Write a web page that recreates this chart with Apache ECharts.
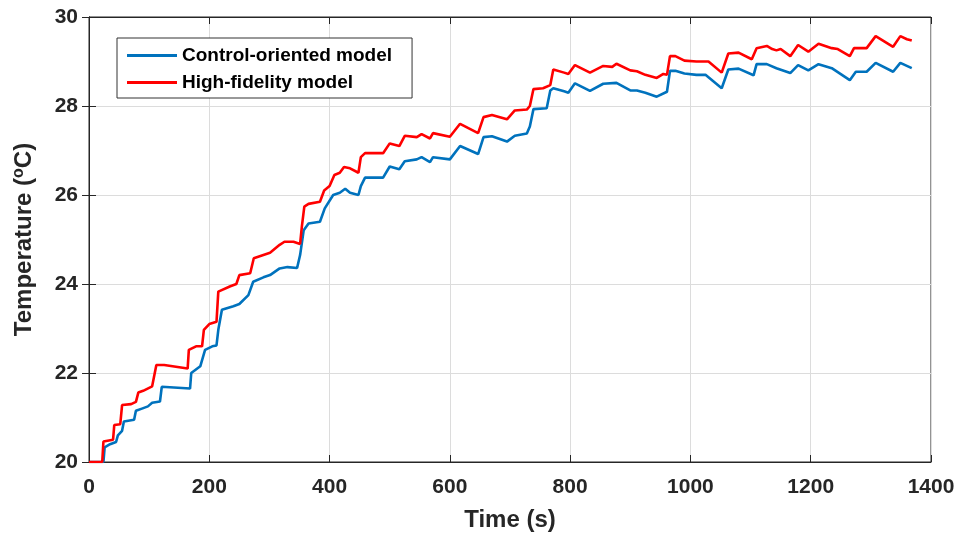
<!DOCTYPE html>
<html>
<head>
<meta charset="utf-8">
<script src="https://cdn.jsdelivr.net/npm/echarts@6/dist/echarts.min.js"></script>
<style>html,body{margin:0;padding:0;background:#fff;}#c{width:959px;height:539px;}</style>
</head>
<body>
<div id="c"></div>
<script>
var seriesNames = ['Control-oriented model', 'High-fidelity model'];
var xTicks = [0, 200, 400, 600, 800, 1000, 1200, 1400];
var yTicks = [20, 22, 24, 26, 28, 30];

var timeBlue = [0,24,26,35,45,48,55,58,75,78,88,98,105,118,121,168,170,185,193,205,212,215,221,240,250,265,273,290,301,317,330,346,351,357,365,384,392,406,417,426,434,448,452,459,489,500,516,525,545,553,567,572,600,617,647,656,670,695,708,728,733,739,761,767,772,790,797,808,833,855,877,900,911,925,944,961,966,975,990,1010,1025,1052,1063,1080,1105,1110,1127,1143,1166,1179,1196,1213,1235,1265,1275,1293,1308,1337,1349,1368];
var tempBlue = [20,20,20.33,20.4,20.45,20.6,20.7,20.91,20.95,21.15,21.2,21.25,21.33,21.36,21.69,21.65,22.0,22.15,22.52,22.6,22.62,22.97,23.42,23.5,23.55,23.75,24.05,24.15,24.2,24.35,24.38,24.36,24.65,25.21,25.36,25.4,25.7,26.0,26.05,26.14,26.05,26.0,26.2,26.39,26.39,26.64,26.58,26.76,26.8,26.85,26.74,26.85,26.8,27.1,26.92,27.3,27.32,27.2,27.33,27.38,27.54,27.93,27.95,28.35,28.4,28.33,28.3,28.51,28.34,28.5,28.52,28.35,28.35,28.3,28.21,28.32,28.79,28.79,28.73,28.7,28.7,28.4,28.82,28.84,28.69,28.94,28.94,28.85,28.74,28.92,28.8,28.94,28.85,28.58,28.77,28.77,28.97,28.77,28.97,28.85];

var timeRed = [0,22,24,40,42,52,55,70,78,82,90,105,112,125,164,166,178,188,191,200,212,215,235,245,250,268,274,301,317,325,340,351,354,358,365,384,391,400,408,417,424,434,448,452,459,489,500,516,525,545,553,567,572,600,617,647,656,670,695,708,728,733,739,755,767,772,790,797,808,833,855,870,877,900,911,925,944,955,961,966,975,990,1010,1030,1052,1063,1080,1102,1110,1127,1136,1143,1150,1166,1179,1196,1213,1235,1245,1265,1272,1293,1308,1337,1349,1360,1368];
var tempRed = [20,20,20.46,20.5,20.83,20.85,21.28,21.3,21.35,21.56,21.6,21.7,22.18,22.18,22.1,22.52,22.6,22.6,22.97,23.1,23.15,23.83,23.95,24.0,24.2,24.24,24.58,24.7,24.88,24.95,24.95,24.9,25.3,25.74,25.8,25.85,26.1,26.2,26.45,26.5,26.63,26.6,26.5,26.85,26.94,26.94,27.16,27.1,27.33,27.3,27.37,27.27,27.39,27.31,27.6,27.39,27.75,27.8,27.7,27.9,27.92,28.0,28.38,28.4,28.47,28.82,28.75,28.72,28.92,28.75,28.9,28.88,28.95,28.8,28.78,28.7,28.63,28.72,28.7,29.12,29.12,29.02,29.0,29.0,28.75,29.18,29.2,29.05,29.3,29.35,29.28,29.25,29.28,29.12,29.37,29.22,29.4,29.3,29.28,29.12,29.3,29.3,29.57,29.33,29.57,29.5,29.47];

function pairs(t, v) { return t.map(function (x, i) { return [x, v[i]]; }); }

var FONT = '"Liberation Sans", Arial, sans-serif';
var chart = echarts.init(document.getElementById('c'), null, {renderer: 'canvas'});
var axisCol = '#262626';
chart.setOption({
  backgroundColor: '#ffffff',
  animation: false,
  grid: {left: 89, right: 28, top: 17, bottom: 77, show: true, borderColor: axisCol, borderWidth: 1},
  legend: {
    orient: 'vertical', left: 117, top: 38,
    backgroundColor: '#fff', borderColor: '#333', borderWidth: 1,
    padding: [8, 20, 6, 10], itemGap: 8,
    itemWidth: 50, itemHeight: 3, icon: 'rect',
    textStyle: {fontFamily: FONT, fontWeight: 'bold', fontSize: 19, color: '#000'},
    data: seriesNames
  },
  xAxis: [{
    type: 'value', min: xTicks[0], max: xTicks[xTicks.length - 1], interval: 200,
    name: 'Time (s)', nameLocation: 'middle', nameGap: 46,
    nameTextStyle: {fontFamily: FONT, fontWeight: 'bold', fontSize: 24, color: axisCol},
    axisLine: {show: true, onZero: false, lineStyle: {color: axisCol}},
    axisTick: {show: true, inside: true, length: 7, lineStyle: {color: axisCol}},
    axisLabel: {fontFamily: FONT, fontWeight: 'bold', fontSize: 21, color: axisCol, margin: 15,
      formatter: function (v) { return String(v); }},
    splitLine: {show: true, lineStyle: {color: '#dcdcdc', width: 1}}
  }, {
    type: 'value', position: 'top', min: 0, max: 1400, interval: 200,
    axisLine: {show: true, lineStyle: {color: axisCol}},
    axisTick: {show: true, inside: true, length: 7, lineStyle: {color: axisCol}},
    axisLabel: {show: false}, splitLine: {show: false}
  }],
  yAxis: [{
    type: 'value', min: yTicks[0], max: yTicks[yTicks.length - 1], interval: 2,
    name: '{a|Temperature (}{s|o}{a|C)}', nameLocation: 'middle', nameGap: 52, nameRotate: 90,
    nameTextStyle: {
      rich: {
        a: {fontFamily: FONT, fontWeight: 'bold', fontSize: 24, color: axisCol},
        s: {fontFamily: FONT, fontWeight: 'bold', fontSize: 16, color: axisCol, verticalAlign: 'top', padding: [0, 0, 10, 0]}
      }
    },
    axisLine: {show: true, onZero: false, lineStyle: {color: axisCol}},
    axisTick: {show: true, inside: true, length: 7, lineStyle: {color: axisCol}},
    axisLabel: {fontFamily: FONT, fontWeight: 'bold', fontSize: 21, color: axisCol, margin: 11},
    splitLine: {show: true, lineStyle: {color: '#dcdcdc', width: 1}}
  }, {
    type: 'value', position: 'right', min: 20, max: 30, interval: 2,
    axisLine: {show: true, lineStyle: {color: axisCol}},
    axisTick: {show: true, inside: true, length: 7, lineStyle: {color: axisCol}},
    axisLabel: {show: false}, splitLine: {show: false}
  }],
  series: [{
    name: seriesNames[0], type: 'line', showSymbol: false, symbol: 'none',
    data: pairs(timeBlue, tempBlue),
    lineStyle: {color: '#0072BD', width: 2.6}, itemStyle: {color: '#0072BD'}
  }, {
    name: seriesNames[1], type: 'line', showSymbol: false, symbol: 'none',
    data: pairs(timeRed, tempRed),
    lineStyle: {color: '#FF0000', width: 2.6}, itemStyle: {color: '#FF0000'}
  }]
});
</script>
</body>
</html>
